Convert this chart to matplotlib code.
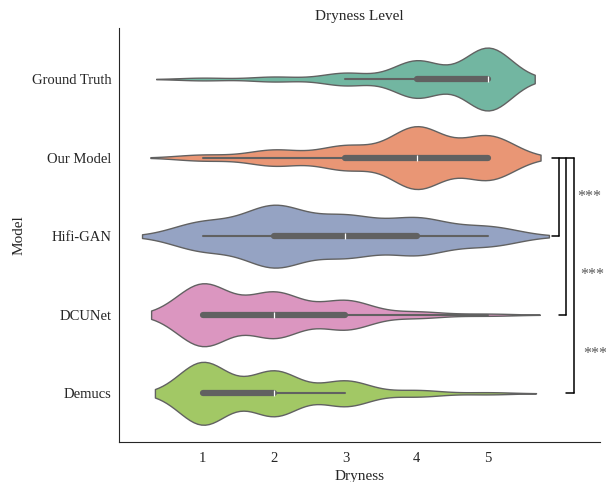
import numpy as np
import pandas as pd
import matplotlib
matplotlib.use("Agg")
import matplotlib.pyplot as plt
import seaborn as sns

models = ["Ground Truth", "Our Model", "Hifi-GAN", "DCUNet", "Demucs"]
scores = [1, 2, 3, 4, 5]
# number of ratings for score 1..5
gt_counts = [5, 9, 23, 68, 115]
ours_counts = [9, 24, 36, 93, 66]
hifigan_counts = [31, 66, 43, 39, 21]
dcunet_counts = [58, 42, 27, 6, 2]
demucs_counts = [86, 62, 35, 9, 3]

x_ticks = [1, 2, 3, 4, 5]
# Our Model compared with the baselines
sig_pairs = [("Our Model", "Hifi-GAN"), ("Our Model", "DCUNet"), ("Our Model", "Demucs")]
sig_labels = ["***", "***", "***"]

all_counts = [gt_counts, ours_counts, hifigan_counts, dcunet_counts, demucs_counts]
rows = []
for m, c in zip(models, all_counts):
    for s in np.repeat(scores, c):
        rows.append((m, s))
df = pd.DataFrame(rows, columns=["Model", "Dryness"])

sns.set_style("white")
plt.rcParams['font.family'] = ['Liberation Serif', 'DejaVu Serif']

fig, ax = plt.subplots(figsize=(6.06, 4.82), dpi=100)
fig.subplots_adjust(left=0.196, right=0.990, bottom=0.083, top=0.942)

sns.violinplot(data=df, x="Dryness", y="Model", hue="Model", order=models,
               palette="Set2", orient="h", density_norm="width", inner="box",
               linewidth=1, linecolor="0.38", legend=False, ax=ax)

ax.set_xlim(-0.18, 6.57)
ax.set_ylim(4.62, -0.65)
ax.set_xticks(x_ticks)
ax.tick_params(labelsize=10.5)
ax.tick_params(axis="y", pad=2)
ax.set_title("Dryness Level", fontsize=11)
ax.set_xlabel("Dryness", fontsize=11)
ax.set_ylabel("Model", fontsize=11)
sns.despine(ax=ax)

# significance brackets
y0 = models.index("Our Model")
ax.plot([5.9, 6.2], [y0, y0], color="k", lw=1.1, clip_on=False)
x_prev = 5.9
for (a, b), lab, xv, xs in zip(sig_pairs, sig_labels, [6.0, 6.09, 6.2], [6.25, 6.3, 6.33]):
    yb = models.index(b)
    ax.plot([xv, xv], [y0, yb], color="k", lw=1.1, clip_on=False)
    ax.plot([x_prev, xv], [yb, yb], color="k", lw=1.1, clip_on=False)
    ax.text(xs, yb - 0.5, lab, ha="left", va="center", fontsize=11.5, color="0.35")
    x_prev = xv

fig.savefig("out.png", dpi=100)
